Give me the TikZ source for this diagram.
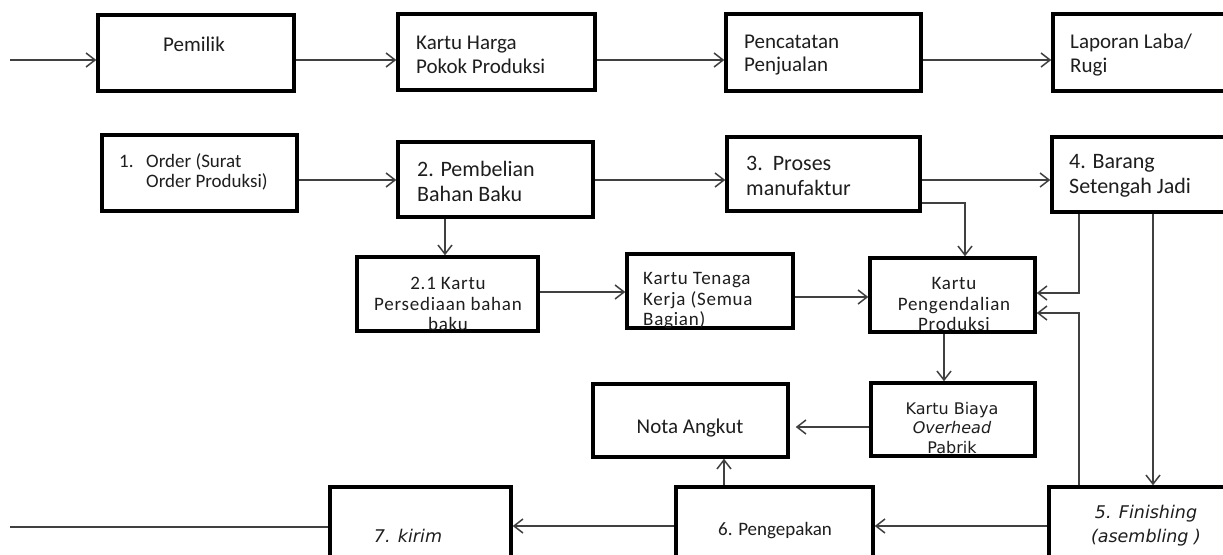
\documentclass[tikz,border=0pt]{standalone}
\usepackage{fontspec}
\setmainfont{Carlito}
\newfontfamily\dvs{DejaVu Sans}
\newfontfamily\spc[LetterSpace=4.0]{Carlito}
\usetikzlibrary{arrows.meta}
\definecolor{conn}{HTML}{404040}
\definecolor{txtc}{HTML}{1E1E1E}
\newcommand{\mkbox}[5]{\node[bxst, minimum width={#4-#2}, minimum height={#5-#3}] (#1) at ({(#2+#4)/2},{(#3+#5)/2}) {};}
\begin{document}
\begin{tikzpicture}[x=1pt,y=-1pt,
  bxst/.style={draw=black, line width=3.5pt, rectangle, inner sep=0pt, fill=white},
  arr/.style={draw=conn, line width=1.6pt, -{Straight Barb[length=9pt,width=14pt,line width=1.5pt]}},
  ln/.style={draw=conn, line width=1.6pt},
  txt/.style={inner sep=0pt, text=txtc, font=\fontsize{21}{23.5}\selectfont, align=left},
  txtm/.style={txt, font=\fontsize{19}{20.5}\selectfont},
  txts/.style={txt, font=\spc\fontsize{19}{20.5}\selectfont},
  txtb/.style={txt, font=\fontsize{22}{25}\selectfont},
  txtd/.style={txt, align=center, font=\dvs\fontsize{16}{19.5}\selectfont},
  txtdi/.style={txt, align=center, font=\dvs\itshape\fontsize{17.5}{24}\selectfont}
]
\useasboundingbox (0,0) rectangle (1223,554);
\fill[white] (0,0) rectangle (1223,554);
\clip (0,0) rectangle (1223,554);

% boxes
\mkbox{pemilik}{98}{15}{294}{91}
\mkbox{harga}{398}{14}{595}{90}
\mkbox{catat}{726}{14}{921}{91}
\mkbox{laporan}{1053}{14}{1262}{91}
\mkbox{order}{102}{135}{297}{211}
\mkbox{beli}{398}{142}{593}{217}
\mkbox{proses}{727}{137}{920}{211}
\mkbox{barang}{1052}{137}{1262}{212}
\mkbox{sedia}{357}{257}{538}{331}
\mkbox{tenaga}{627}{254}{793}{328}
\mkbox{kendali}{870}{258}{1035}{332}
\mkbox{biaya}{871}{383}{1035}{456}
\mkbox{nota}{593}{384}{788}{457}
\mkbox{kemas}{676}{487}{873}{590}
\mkbox{finish}{1049}{487}{1262}{590}
\mkbox{kirim}{330}{487}{511}{590}

% texts
\node[txt, anchor=center] (tpem) at (194,44) {Pemilik};
\node[txt, anchor=west] (tharga) at (416,55) {Kartu Harga\\Pokok Produksi};
\node[txt, anchor=west] (tcatat) at (744,55) {Pencatatan\\Penjualan};
\node[txt, anchor=west] (tlap) at (1070,55) {Laporan Laba/\\Rugi};
\node[txtm, anchor=west] (tord1) at (119,161) {1.};
\node[txtm, anchor=west] (tord) at (146,172) {Order (Surat\\Order Produksi)};
\node[txtb, anchor=west] (tbeli) at (417,181) {2. Pembelian\\Bahan Baku};
\node[txtb, anchor=west] (tpros) at (746,176) {3.\ \ Proses\\manufaktur};
\node[txtb, anchor=west] (tbar) at (1069,176) {4. Barang\\Setengah Jadi};
\node[txts, align=center, anchor=center] (tsedia) at (448,304) {2.1 Kartu\\Persediaan bahan\\baku};
\node[txts, anchor=west] (tten) at (643,301) {Kartu Tenaga\\Kerja (Semua\\Bagian)};
\node[txts, align=center, anchor=center] (tkend) at (954,304) {Kartu\\Pengendalian\\Produksi};
\node[txtd, anchor=center] (tbiaya) at (952,428) {Kartu Biaya\\\textit{Overhead}\\Pabrik};
\node[txt, anchor=center] (tnota) at (690,428) {Nota Angkut};
\node[txtm, anchor=center] (tkemas) at (775,531) {6. Pengepakan};
\node[txtdi, anchor=center] (tfin) at (1146,526) {5. Finishing\\(asembling )};
\node[txtdi, anchor=center] (tkir) at (408,536) {7. kirim};

% helper coordinates
\coordinate (in) at (10,60);
\coordinate (r2) at (0,180);
\coordinate (r3) at (0,292);
\coordinate (r3b) at (0,297);
\coordinate (pk) at (965,203);
\coordinate (bk) at (1079,293);
\coordinate (fk) at (1079,313);
\coordinate (bf) at (1153,0);
\coordinate (kb) at (944,0);
\coordinate (v1) at (445,0);
\coordinate (kn) at (724,0);
\coordinate (r5) at (0,427);
\coordinate (r6) at (0,526);
\coordinate (out) at (10,527);

% connectors
\draw[arr] (in) -- (in -| pemilik.west);
\draw[arr] (in -| pemilik.east) -- (in -| harga.west);
\draw[arr] (in -| harga.east) -- (in -| catat.west);
\draw[arr] (in -| catat.east) -- (in -| laporan.west);
\draw[arr] (r2 -| order.east) -- (r2 -| beli.west);
\draw[arr] (r2 -| beli.east) -- (r2 -| proses.west);
\draw[arr] (r2 -| proses.east) -- (r2 -| barang.west);
\draw[arr] (beli.south -| v1) -- (sedia.north -| v1);
\draw[arr] (r3 -| sedia.east) -- (r3 -| tenaga.west);
\draw[arr] (r3b -| tenaga.east) -- (r3b -| kendali.west);
\draw[arr] (pk -| proses.east) -- (pk) -- (kendali.north -| pk);
\draw[arr] (barang.south -| bk) -- (bk) -- (bk -| kendali.east);
\draw[arr] (finish.north -| fk) -- (fk) -- (fk -| kendali.east);
\draw[arr] (barang.south -| bf) -- (finish.north -| bf);
\draw[arr] (kendali.south -| kb) -- (biaya.north -| kb);
\draw[arr, shorten >=6pt] (r5 -| biaya.west) -- (r5 -| nota.east);
\draw[arr] (kemas.north -| kn) -- (nota.south -| kn);
\draw[arr] (r6 -| finish.west) -- (r6 -| kemas.east);
\draw[arr] (r6 -| kemas.west) -- (r6 -| kirim.east);
\draw[ln] (out -| kirim.west) -- (out);
\end{tikzpicture}
\end{document}
